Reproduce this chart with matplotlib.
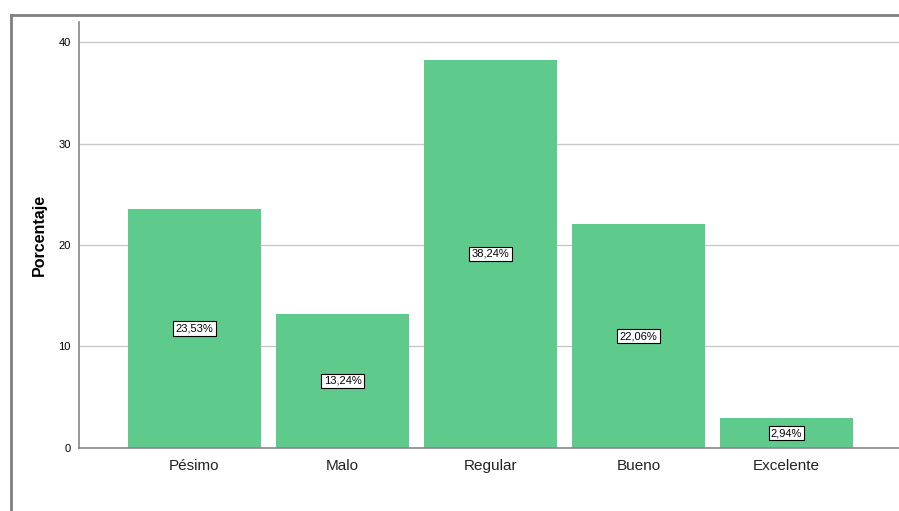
import matplotlib.pyplot as plt
from matplotlib.lines import Line2D

plt.rcParams["font.family"] = ["Liberation Sans", "DejaVu Sans"]

categorias = ["Pésimo", "Malo", "Regular", "Bueno", "Excelente"]
porcentajes = [23.53, 13.24, 38.24, 22.06, 2.94]
yticks = [0, 10, 20, 30, 40]

fig = plt.figure(figsize=(8.99, 5.11), dpi=100)
ax = fig.add_axes([0.0879, 0.1233, 0.9121, 0.8342])

x = range(len(categorias))
ax.bar(x, porcentajes, width=0.9, color="#5ECA8B", zorder=2)

for xi, v in zip(x, porcentajes):
    etiqueta = f"{v:.2f}%".replace(".", ",")
    ax.text(xi, v / 2, etiqueta, ha="center", va="center", fontsize=8, zorder=3,
            bbox=dict(boxstyle="square,pad=0.2", fc="white", ec="black", lw=0.8))

ax.set_xlim(-0.78, 4.76)
ax.set_ylim(0, 42)
ax.set_yticks(yticks)
ax.set_xticks(list(x))
ax.set_xticklabels(categorias, fontsize=11, color="#222222")
ax.tick_params(axis="y", labelsize=8, length=0, pad=6)
ax.tick_params(axis="x", length=0, pad=8)
ax.grid(axis="y", color="#C8C8C8", lw=1, zorder=0)
ax.set_ylabel("Porcentaje", fontsize=11.5, fontweight="bold", labelpad=8)

for lado in ["top", "right"]:
    ax.spines[lado].set_visible(False)
for lado in ["left", "bottom"]:
    ax.spines[lado].set_color("#888888")
    ax.spines[lado].set_linewidth(1.2)

# marco exterior del gráfico
fig.add_artist(Line2D([10.5 / 899, 10.5 / 899], [0, 1 - 15.5 / 511],
                      transform=fig.transFigure, color="#808080", lw=2))
fig.add_artist(Line2D([10.5 / 899, 1], [1 - 15.5 / 511, 1 - 15.5 / 511],
                      transform=fig.transFigure, color="#808080", lw=2))

fig.savefig("out.png", dpi=100)
